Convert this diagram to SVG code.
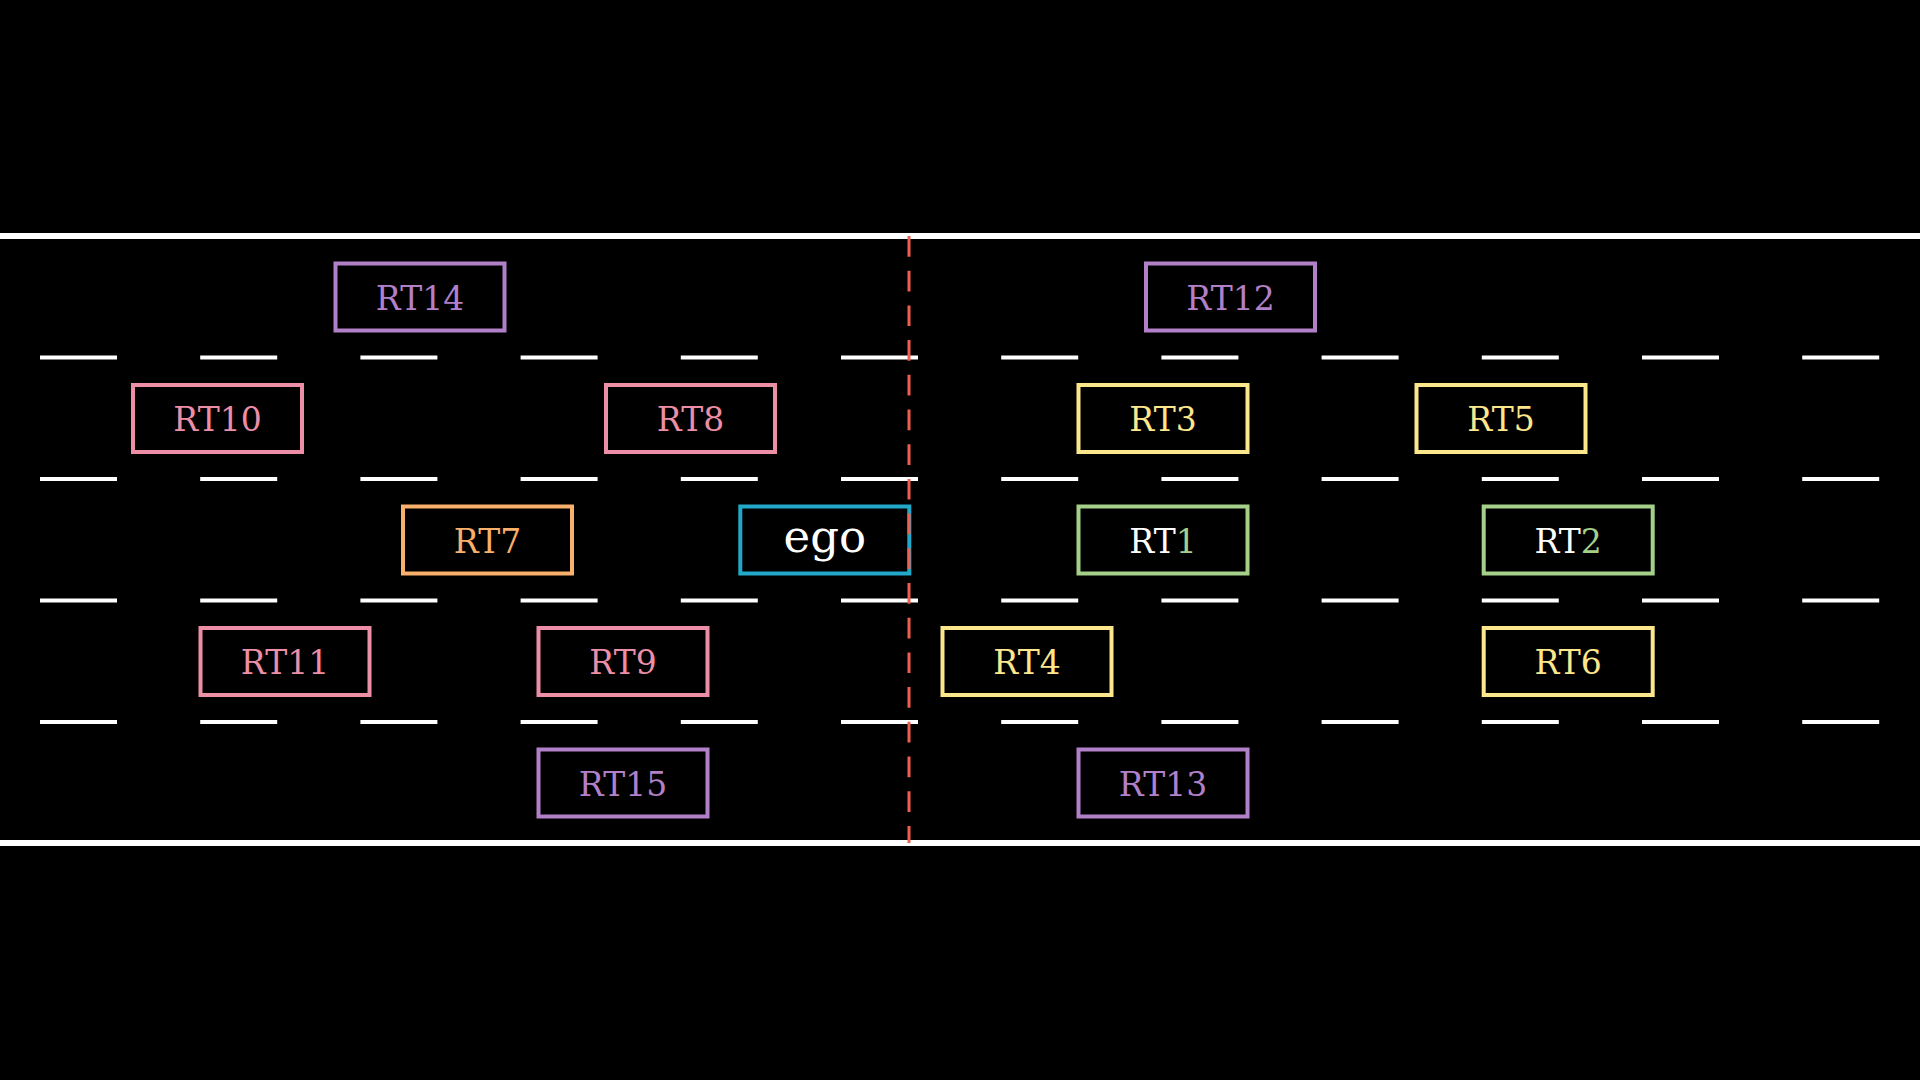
<svg xmlns="http://www.w3.org/2000/svg" width="1920" height="1080" viewBox="0 0 1920 1080">
<style>
.box{fill:#000;stroke-width:4}
.lbl{font-family:"DejaVu Serif","Liberation Serif",serif;font-size:33px;text-anchor:middle}
.ego{font-family:"DejaVu Serif","Liberation Serif",serif;font-size:45px;text-anchor:middle;fill:#fff}
.road{stroke:#fff;stroke-width:6}
.lane{stroke:#fff;stroke-width:4;stroke-dasharray:77 83.2}
.p{stroke:#b280c8}.pt{fill:#b280c8}
.k{stroke:#ec8ea6}.kt{fill:#ec8ea6}
.o{stroke:#f8b06a}.ot{fill:#f8b06a}
.y{stroke:#fde78c}.yt{fill:#fde78c}
.g{stroke:#a5d08a}.gt{fill:#a5d08a}
.c{stroke:#22a8c8}
.w{fill:#fff}
</style>
<rect x="0" y="0" width="1920" height="1080" fill="#000"/>
<g id="road">
<line class="road" x1="0" y1="236" x2="1920" y2="236"/>
<line class="road" x1="0" y1="843" x2="1920" y2="843"/>
<line class="lane" x1="40" y1="357.5" x2="1880" y2="357.5"/>
<line class="lane" x1="40" y1="479" x2="1880" y2="479"/>
<line class="lane" x1="40" y1="600.5" x2="1880" y2="600.5"/>
<line class="lane" x1="40" y1="722" x2="1880" y2="722"/>
</g>
<g id="RT14"><rect class="box p" x="335.5" y="263.5" width="169" height="67"/><text class="lbl pt" x="420" y="309.5">RT14</text></g>
<g id="RT12"><rect class="box p" x="1146" y="263.5" width="169" height="67"/><text class="lbl pt" x="1230.5" y="309.5">RT12</text></g>
<g id="RT10"><rect class="box k" x="133" y="385" width="169" height="67"/><text class="lbl kt" x="217.5" y="431">RT10</text></g>
<g id="RT8"><rect class="box k" x="606" y="385" width="169" height="67"/><text class="lbl kt" x="690.5" y="431">RT8</text></g>
<g id="RT3"><rect class="box y" x="1078.5" y="385" width="169" height="67"/><text class="lbl yt" x="1163" y="431">RT3</text></g>
<g id="RT5"><rect class="box y" x="1416.5" y="385" width="169" height="67"/><text class="lbl yt" x="1501" y="431">RT5</text></g>
<g id="RT7"><rect class="box o" x="403" y="506.5" width="169" height="67"/><text class="lbl ot" x="487.5" y="552.5">RT7</text></g>
<g id="ego"><rect class="box c" x="740.3" y="506.5" width="169" height="67"/><text class="ego" x="824.8" y="551.5">ego</text></g>
<g id="RT1"><rect class="box g" x="1078.5" y="506.5" width="169" height="67"/><text class="lbl w" x="1163" y="552.5">RT<tspan class="gt">1</tspan></text></g>
<g id="RT2"><rect class="box g" x="1483.7" y="506.5" width="169" height="67"/><text class="lbl w" x="1568.2" y="552.5">RT<tspan class="gt">2</tspan></text></g>
<g id="RT11"><rect class="box k" x="200.5" y="628" width="169" height="67"/><text class="lbl kt" x="285" y="674">RT11</text></g>
<g id="RT9"><rect class="box k" x="538.5" y="628" width="169" height="67"/><text class="lbl kt" x="623" y="674">RT9</text></g>
<g id="RT4"><rect class="box y" x="942.5" y="628" width="169" height="67"/><text class="lbl yt" x="1027" y="674">RT4</text></g>
<g id="RT6"><rect class="box y" x="1483.7" y="628" width="169" height="67"/><text class="lbl yt" x="1568.2" y="674">RT6</text></g>
<g id="RT15"><rect class="box p" x="538.5" y="749.5" width="169" height="67"/><text class="lbl pt" x="623" y="795.5">RT15</text></g>
<g id="RT13"><rect class="box p" x="1078.5" y="749.5" width="169" height="67"/><text class="lbl pt" x="1163" y="795.5">RT13</text></g>
<g id="connectors">
<line x1="909" y1="236" x2="909" y2="843" stroke="#ef5f50" stroke-width="3" stroke-dasharray="20.7 14"/>
</g>
</svg>
